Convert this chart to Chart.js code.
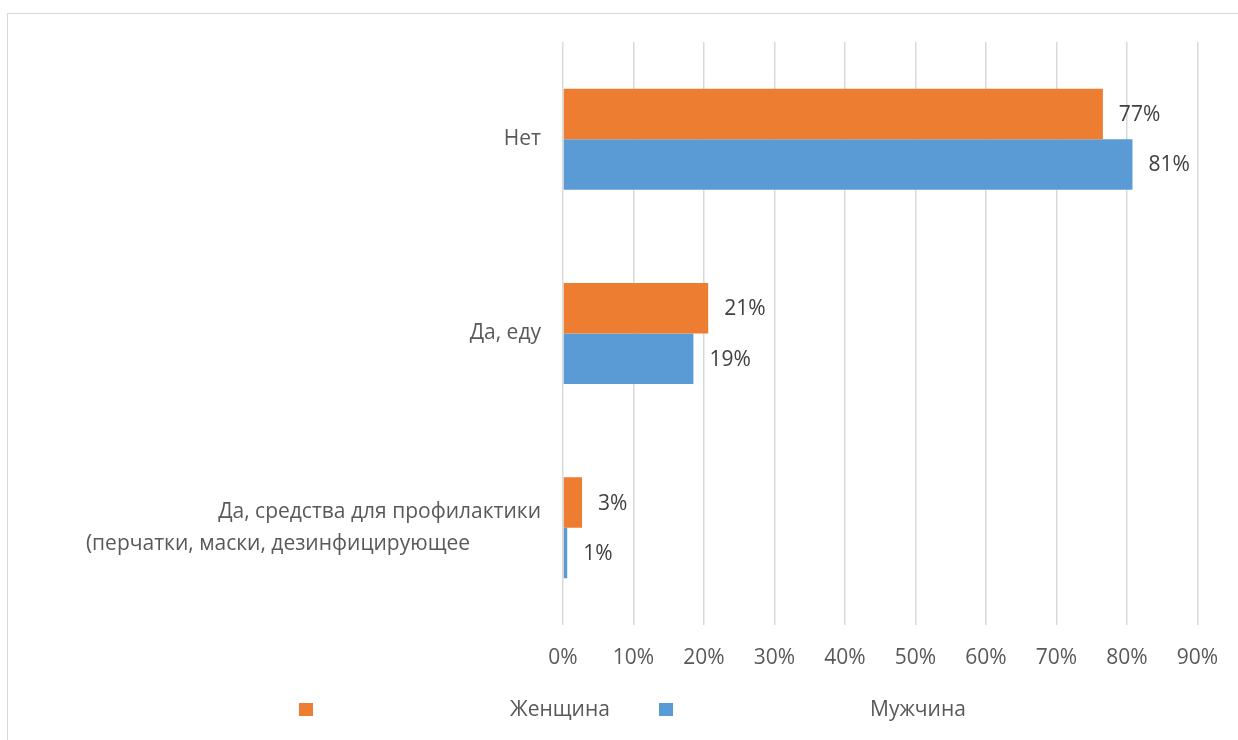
<!DOCTYPE html>
<html>
<head>
<meta charset="utf-8">
<script src="https://cdn.jsdelivr.net/npm/chart.js@4.4.0/dist/chart.umd.min.js"></script>
<style>
html, body { margin: 0; padding: 0; background: #fff; overflow: hidden; }
#marco { position: absolute; left: 7px; top: 13px; width: 1300px; height: 800px; border: 1.5px solid #d9d9d9; }
#caja { position: absolute; left: 0; top: 0; width: 1238px; height: 740px; }
</style>
</head>
<body>
<div id="marco"></div>
<div id="caja"><canvas id="myChart"></canvas></div>
<script>
// datos
const categorias = ['Нет', 'Да, еду', ['Да, средства для профилактики', '(перчатки, маски, дезинфицирующее']];
const series = ['Женщина', 'Мужчина'];
const mujeres = [76.6, 20.6, 2.7];
const hombres = [80.8, 18.5, 0.6];
const ejeMax = 90;
const ejePaso = 10;

const fuente = "'Open Sans', sans-serif";
const naranja = '#ED7D31';
const azul = '#5B9BD5';

// etiquetas de valor a la derecha de cada barra
const etiquetas = {
    id: 'etiquetas',
    afterDatasetsDraw(chart) {
        const ctx = chart.ctx;
        ctx.save();
        ctx.font = '21px ' + fuente;
        ctx.fillStyle = '#404040';
        ctx.textAlign = 'left';
        ctx.textBaseline = 'middle';
        chart.data.datasets.forEach((ds, i) => {
            chart.getDatasetMeta(i).data.forEach((bar, j) => {
                ctx.fillText(Math.round(ds.data[j]) + '%', bar.x + 16, bar.y + 1);
            });
        });
        ctx.restore();
    }
};

// leyenda al estilo excel (cuadro, hueco grande, texto)
const leyenda = {
    id: 'leyenda',
    afterDraw(chart) {
        const ctx = chart.ctx;
        const pos = [{ c: 299, t: 510 }, { c: 659, t: 870 }];
        ctx.save();
        ctx.font = '21px ' + fuente;
        ctx.textBaseline = 'middle';
        ctx.textAlign = 'left';
        chart.data.datasets.forEach((ds, i) => {
            ctx.fillStyle = ds.backgroundColor;
            ctx.fillRect(pos[i].c, 703, 14, 13);
            ctx.fillStyle = '#595959';
            ctx.fillText(ds.label, pos[i].t, 710);
        });
        ctx.restore();
    }
};

const ctx = document.getElementById('myChart').getContext('2d');
myChart = new Chart(ctx, {
    type: 'bar',
    data: {
        labels: categorias,
        datasets: [
            { label: series[0], data: mujeres, backgroundColor: naranja },
            { label: series[1], data: hombres, backgroundColor: azul }
        ]
    },
    options: {
        indexAxis: 'y',
        responsive: true,
        maintainAspectRatio: false,
        animation: false,
        barPercentage: 1,
        categoryPercentage: 0.52,
        layout: { padding: { left: 0, right: 39, top: 42, bottom: 0 } },
        plugins: {
            legend: { display: false },
            tooltip: { enabled: false },
            title: { display: false }
        },
        scales: {
            x: {
                min: 0,
                max: ejeMax,
                grid: { color: '#d9d9d9', lineWidth: 1.5, drawTicks: false },
                border: { display: false },
                ticks: {
                    stepSize: ejePaso,
                    padding: 20,
                    color: '#595959',
                    font: { family: fuente, size: 21 },
                    callback: v => v + '%'
                },
                afterFit: s => { s.height = 115; }
            },
            y: {
                grid: { display: false, drawTicks: false },
                border: { display: false },
                ticks: {
                    padding: 22,
                    color: '#595959',
                    font: { family: fuente, size: 21, lineHeight: 1.55 },
                    callback: function(v) {
                        const l = this.getLabelForValue(v);
                        if (Array.isArray(l)) return [l[0], l[1] + ' '.repeat(13)];
                        return l;
                    }
                },
                afterFit: s => { s.width = 563; s.paddingTop = 0; s.paddingBottom = 0; }
            }
        }
    },
    plugins: [etiquetas, leyenda]
});
</script>
</body>
</html>
